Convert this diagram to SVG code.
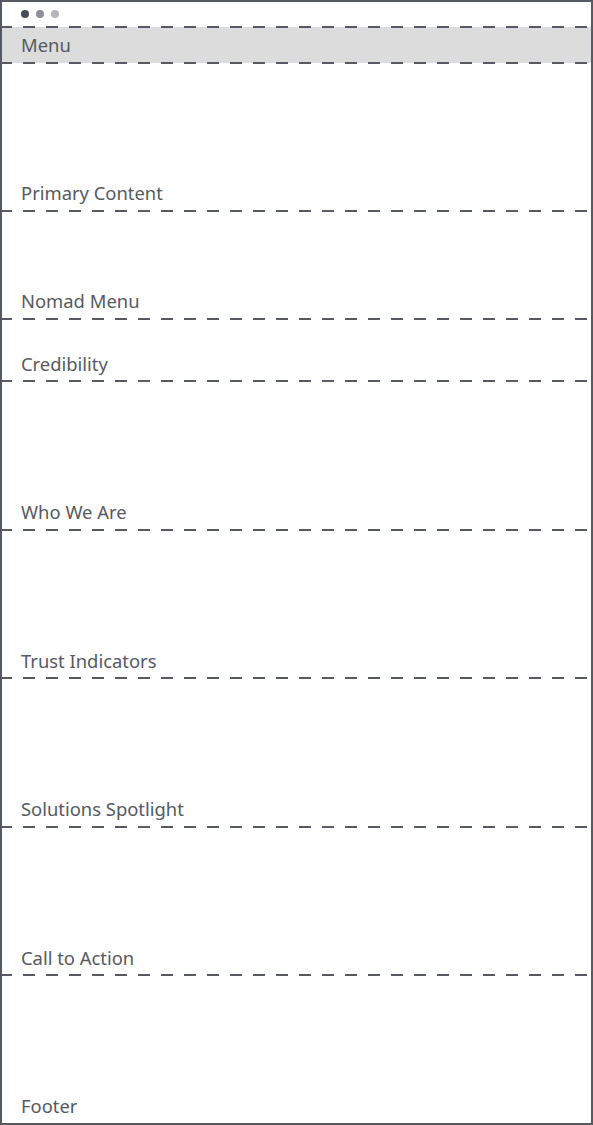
<svg xmlns="http://www.w3.org/2000/svg" width="593" height="1125" viewBox="0 0 593 1125">
<style>
.lbl{font-family:"Noto Sans","Liberation Sans",sans-serif;font-size:18.4px;fill:#565a60}
.dash{stroke:#565a60;stroke-width:2;stroke-dasharray:12 11;fill:none}
</style>
<rect x="0" y="0" width="593" height="1125" fill="#ffffff"/>
<rect x="1" y="27" width="591" height="36" fill="#dcdcdd"/>
<g id="window-dots">
<circle cx="25" cy="14" r="4" fill="#4a4d55"/>
<circle cx="40" cy="14" r="4" fill="#8e9096"/>
<circle cx="55" cy="14" r="4" fill="#b5b6ba"/>
</g>
<g id="connectors">
<line class="dash" x1="0" y1="27" x2="593" y2="27"/>
<line class="dash" x1="0" y1="63" x2="593" y2="63"/>
<line class="dash" x1="0" y1="211" x2="593" y2="211"/>
<line class="dash" x1="0" y1="319" x2="593" y2="319"/>
<line class="dash" x1="0" y1="381" x2="593" y2="381"/>
<line class="dash" x1="0" y1="530" x2="593" y2="530"/>
<line class="dash" x1="0" y1="678" x2="593" y2="678"/>
<line class="dash" x1="0" y1="827" x2="593" y2="827"/>
<line class="dash" x1="0" y1="975" x2="593" y2="975"/>
</g>
<g id="menu"><text class="lbl" x="21" y="52">Menu</text></g>
<g id="primary-content"><text class="lbl" x="21" y="200">Primary Content</text></g>
<g id="nomad-menu"><text class="lbl" x="21" y="308">Nomad Menu</text></g>
<g id="credibility"><text class="lbl" x="21" y="371">Credibility</text></g>
<g id="who-we-are"><text class="lbl" x="21" y="519">Who We Are</text></g>
<g id="trust-indicators"><text class="lbl" x="21" y="668">Trust Indicators</text></g>
<g id="solutions-spotlight"><text class="lbl" x="21" y="816">Solutions Spotlight</text></g>
<g id="call-to-action"><text class="lbl" x="21" y="965">Call to Action</text></g>
<g id="footer"><text class="lbl" x="21" y="1113">Footer</text></g>
<rect id="frame" x="1" y="1" width="591" height="1123" fill="none" stroke="#565a60" stroke-width="2"/>
</svg>
